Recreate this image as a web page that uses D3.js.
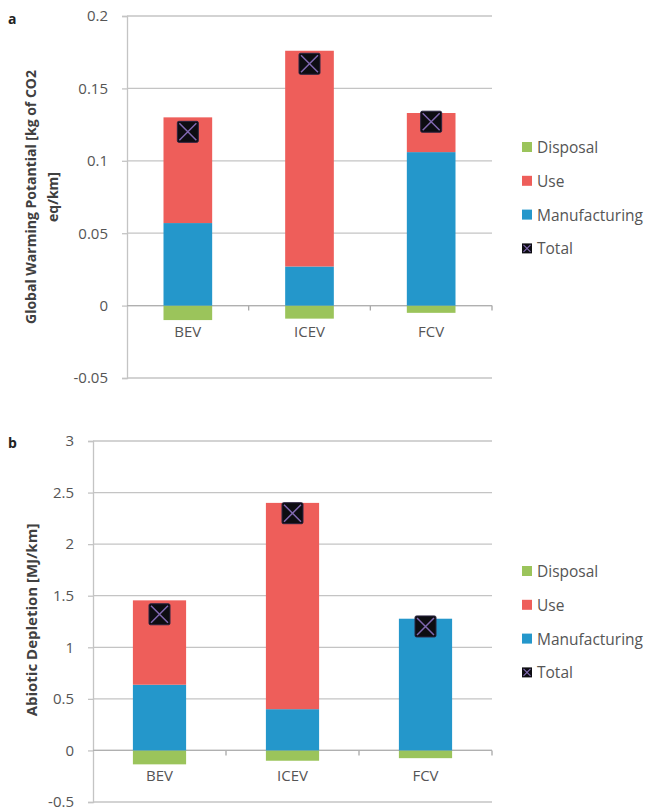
<!DOCTYPE html>
<html>
<head>
<meta charset="utf-8">
<script src="https://cdn.jsdelivr.net/npm/d3@7"></script>
<style>
  html, body { margin: 0; padding: 0; background: #fff; }
  text { font-family: "Open Sans", "DejaVu Sans", sans-serif; }
</style>
</head>
<body>
<svg id="chart" width="652" height="812"></svg>
<script>
// ---------- data ----------
const categories = ["BEV", "ICEV", "FCV"];
const seriesNames = ["Disposal", "Use", "Manufacturing", "Total"];

// Panel a: Global Warming Potential [kg CO2 eq/km]
const gwpDisposal      = [-0.010, -0.009, -0.005];
const gwpManufacturing = [0.057, 0.027, 0.106];
const gwpUse           = [0.073, 0.149, 0.027];
const gwpTotal         = [0.120, 0.167, 0.127];
const gwpTicks         = [-0.05, 0, 0.05, 0.1, 0.15, 0.2];
const gwpTickLabels    = ["-0.05", "0", "0.05", "0.1", "0.15", "0.2"];

// Panel b: Abiotic Depletion [MJ/km]
const adDisposal      = [-0.135, -0.100, -0.075];
const adManufacturing = [0.637, 0.400, 1.277];
const adUse           = [0.818, 2.000, 0.000];
const adTotal         = [1.320, 2.300, 1.202];
const adTicks         = [-0.5, 0, 0.5, 1, 1.5, 2, 2.5, 3];
const adTickLabels    = ["-0.5", "0", "0.5", "1", "1.5", "2", "2.5", "3"];

// ---------- style ----------
const colors = { Disposal: "#9BC45B", Use: "#EE5E5A", Manufacturing: "#2497CB" };
const gridColor = "#c4c4c4";
const textColor = "#555555";
const titleColor = "#404040";

const svg = d3.select("#chart");

function panel(opts) {
  const g = svg.append("g");
  const x = d3.scaleBand().domain(categories)
    .range([opts.x0, opts.x1]).paddingInner(0.6).paddingOuter(0.3);
  const y = d3.scaleLinear().domain(opts.domain).range([opts.y0, opts.y1]);

  // gridlines
  g.append("g").selectAll("line").data(opts.ticks).join("line")
    .attr("x1", opts.x0).attr("x2", opts.x1)
    .attr("y1", d => y(d)).attr("y2", d => y(d))
    .attr("stroke", gridColor).attr("stroke-width", 1.3);

  // y axis
  const yAxis = d3.axisLeft(y).tickValues(opts.ticks)
    .tickFormat((d, i) => opts.tickLabels[i]).tickSize(5).tickPadding(14);
  const ya = g.append("g").attr("transform", `translate(${opts.x0},0)`).call(yAxis);
  ya.select(".domain").attr("stroke", gridColor).attr("stroke-width", 1.3);
  ya.selectAll(".tick line").attr("stroke", gridColor).attr("stroke-width", 1.3);
  ya.selectAll(".tick text").attr("fill", textColor)
    .style("font-size", "15px").style("font-family", '"Open Sans", sans-serif');

  // category ticks on the zero line
  const bounds = [opts.x0, opts.x0 + x.step(), opts.x0 + 2 * x.step(), opts.x1];
  g.append("g").selectAll("line").data(bounds.slice(1)).join("line")
    .attr("x1", d => d).attr("x2", d => d)
    .attr("y1", y(0)).attr("y2", y(0) + 5)
    .attr("stroke", "#a8a8a8").attr("stroke-width", 1.3);
  g.append("line").attr("x1", opts.x0).attr("x2", opts.x1)
    .attr("y1", y(0)).attr("y2", y(0))
    .attr("stroke", "#b0b0b0").attr("stroke-width", 1.3);

  // bars
  const rows = categories.map((c, i) => ({
    c, dis: opts.disposal[i], man: opts.manufacturing[i], use: opts.use[i], tot: opts.total[i]
  }));
  const bw = x.bandwidth();
  const bars = g.append("g");
  bars.selectAll(".dis").data(rows).join("rect").attr("class", "dis")
    .attr("x", d => x(d.c)).attr("width", bw)
    .attr("y", y(0)).attr("height", d => y(d.dis) - y(0))
    .attr("fill", colors.Disposal);
  bars.selectAll(".man").data(rows).join("rect").attr("class", "man")
    .attr("x", d => x(d.c)).attr("width", bw)
    .attr("y", d => y(d.man)).attr("height", d => y(0) - y(d.man))
    .attr("fill", colors.Manufacturing);
  bars.selectAll(".use").data(rows.filter(d => d.use > 0)).join("rect").attr("class", "use")
    .attr("x", d => x(d.c)).attr("width", bw)
    .attr("y", d => y(d.man + d.use)).attr("height", d => y(d.man) - y(d.man + d.use))
    .attr("fill", colors.Use);

  // total markers
  const ms = 21;
  const mk = g.append("g").selectAll("g").data(rows).join("g")
    .attr("transform", d => `translate(${x(d.c) + bw / 2},${y(d.tot)})`);
  mk.append("rect").attr("x", -ms / 2).attr("y", -ms / 2).attr("width", ms).attr("height", ms)
    .attr("rx", 1.5).attr("fill", "#0d0d12").attr("stroke", "#2a2440").attr("stroke-width", 1);
  mk.append("path").attr("d", `M${-ms/2+2},${-ms/2+2}L${ms/2-2},${ms/2-2}M${ms/2-2},${-ms/2+2}L${-ms/2+2},${ms/2-2}`)
    .attr("stroke", "#8068b0").attr("stroke-width", 1.5);

  // category labels
  g.append("g").selectAll("text").data(categories).join("text")
    .attr("x", d => x(d) + bw / 2).attr("y", opts.catY)
    .attr("text-anchor", "middle").attr("dominant-baseline", "central")
    .attr("fill", textColor).style("font-size", "15px").text(d => d);

  // y title
  const tt = g.append("text")
    .attr("transform", `translate(${opts.titleX},${opts.titleY}) rotate(-90)`)
    .attr("text-anchor", "middle").attr("fill", titleColor)
    .style("font-size", opts.titleSize).style("font-weight", "bold");
  opts.title.forEach((line, i) => {
    tt.append("tspan").attr("x", 0).attr("dy", i === 0 ? 0 : 22).text(line);
  });

  // panel letter
  g.append("text").attr("x", opts.letterX).attr("y", opts.letterY)
    .attr("dominant-baseline", "central").attr("fill", "#222")
    .style("font-size", "14px").style("font-weight", "bold").text(opts.letter);

  // legend
  const lg = g.append("g").selectAll("g").data(seriesNames).join("g")
    .attr("transform", (d, i) => `translate(522,${opts.legendY + i * 33.8})`);
  lg.each(function (d) {
    const s = d3.select(this);
    if (d === "Total") {
      s.append("rect").attr("x", 0).attr("y", -5).attr("width", 10).attr("height", 10)
        .attr("fill", "#0d0d12");
      s.append("path").attr("d", "M1.5,-3.5L8.5,3.5M8.5,-3.5L1.5,3.5")
        .attr("stroke", "#8068b0").attr("stroke-width", 1.2);
    } else {
      s.append("rect").attr("x", 0).attr("y", -5).attr("width", 10).attr("height", 10)
        .attr("fill", colors[d]);
    }
    s.append("text").attr("x", 15).attr("y", 0).attr("dominant-baseline", "central")
      .attr("fill", textColor).style("font-size", "15.5px").text(d);
  });
}

panel({
  x0: 127, x1: 492, y0: 378, y1: 16, domain: [-0.05, 0.2],
  ticks: gwpTicks, tickLabels: gwpTickLabels,
  disposal: gwpDisposal, manufacturing: gwpManufacturing, use: gwpUse, total: gwpTotal,
  catY: 331, titleX: 36, titleY: 197, titleSize: "14px",
  title: ["Global Warming Potantial [kg of CO2", "eq/km]"],
  letter: "a", letterX: 8, letterY: 18, legendY: 147
});

panel({
  x0: 93, x1: 492, y0: 802, y1: 441, domain: [-0.5, 3],
  ticks: adTicks, tickLabels: adTickLabels,
  disposal: adDisposal, manufacturing: adManufacturing, use: adUse, total: adTotal,
  catY: 775, titleX: 37, titleY: 620, titleSize: "15px",
  title: ["Abiotic Depletion [MJ/km]"],
  letter: "b", letterX: 8, letterY: 442, legendY: 571
});
</script>
</body>
</html>
